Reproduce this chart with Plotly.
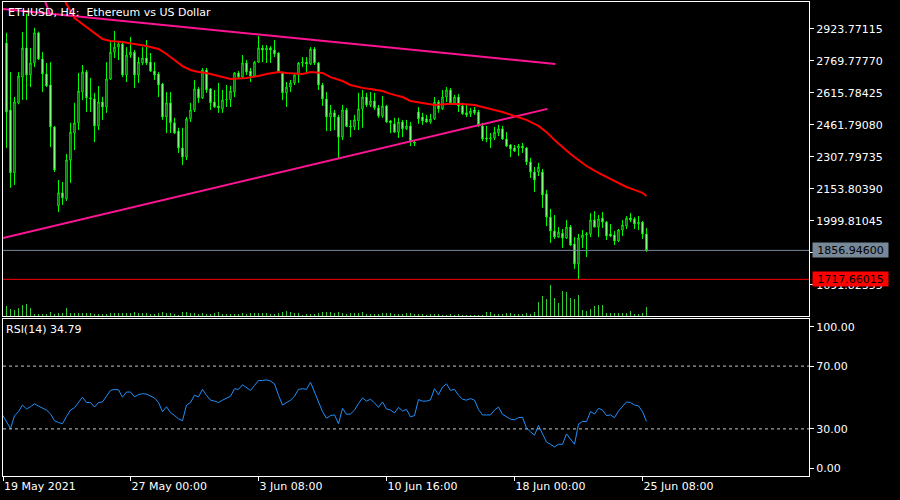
import plotly.graph_objects as go

# ---------------- data ----------------
bars = list(range(161))
opens = [2855,2533,2230,2567,2691,2831,2701,2759,2904,2778,2706,2653,2451,2071,2134,2105,2292,2422,2471,2619,
         2715,2591,2586,2456,2571,2547,2682,2811,2835,2850,2701,2797,2811,2701,2759,2783,2763,2720,2706,2658,
         2499,2567,2471,2431,2350,2306,2490,2533,2634,2591,2725,2634,2571,2552,2538,2581,2583,2619,2711,2691,
         2759,2720,2696,2763,2831,2821,2831,2821,2807,2711,2615,2643,2663,2701,2759,2763,2754,2826,2759,2653,
         2586,2499,2519,2499,2402,2533,2456,2451,2480,2538,2595,2557,2576,2543,2504,2552,2480,2466,2426,2475,
         2442,2456,2378,2523,2499,2490,2475,2490,2571,2538,2595,2629,2567,2595,2552,2519,2514,2533,2523,2456,
         2398,2393,2398,2422,2442,2393,2364,2350,2350,2359,2350,2282,2234,2234,2234,2129,2017,1950,1921,1940,
         1917,1969,1888,1792,1917,1931,1936,2003,1969,2012,1993,1936,1931,1902,1955,1974,2013,2008,1984,1993,
         1936]
highs = [2904,2715,2595,2715,2908,2995,2831,2928,2910,2811,2759,2763,2455,2196,2186,2321,2471,2567,2711,2749,
         2725,2687,2615,2648,2595,2763,2859,2913,2859,2855,2835,2884,2821,2787,2835,2869,2807,2763,2715,2663,
         2619,2619,2495,2447,2447,2499,2567,2677,2643,2735,2735,2639,2629,2663,2629,2653,2648,2715,2720,2797,
         2773,2735,2768,2889,2845,2845,2840,2869,2810,2715,2667,2677,2711,2763,2787,2787,2835,2835,2763,2663,
         2619,2557,2533,2509,2557,2543,2485,2509,2615,2629,2615,2619,2615,2557,2600,2557,2485,2495,2495,2485,
         2485,2475,2388,2547,2519,2509,2514,2595,2581,2629,2643,2639,2605,2610,2567,2562,2543,2547,2533,2471,
         2456,2422,2451,2461,2456,2426,2369,2364,2369,2374,2354,2302,2258,2278,2249,2148,2057,2027,1969,1960,
         2003,1979,1921,1936,1955,1945,2037,2046,2027,2041,1998,1984,1950,1960,2003,2022,2037,2017,2022,1998,
         1965]
lows = [2350,2158,2172,2560,2581,2581,2643,2739,2773,2619,2643,2354,2234,2041,2076,2095,2182,2340,2436,2581,
        2523,2523,2378,2436,2485,2519,2677,2783,2773,2691,2667,2783,2639,2663,2749,2749,2715,2677,2595,2485,
        2422,2422,2417,2326,2268,2292,2475,2523,2567,2586,2615,2533,2543,2519,2519,2547,2547,2595,2687,2687,
        2701,2667,2691,2759,2763,2759,2759,2787,2712,2581,2547,2619,2653,2663,2739,2715,2749,2749,2629,2552,
        2431,2431,2436,2302,2388,2451,2402,2436,2436,2447,2547,2547,2533,2495,2495,2471,2422,2422,2398,2402,
        2436,2359,2359,2466,2461,2471,2466,2485,2519,2533,2571,2567,2562,2523,2509,2499,2499,2509,2451,2383,
        2378,2350,2388,2407,2388,2354,2306,2330,2311,2326,2268,2206,2138,2215,2062,1974,1893,1912,1917,1869,
        1912,1878,1768,1718,1869,1825,1921,1969,1921,1965,1907,1921,1883,1897,1926,1960,1993,1960,1955,1912,
        1850]
closes = [2523,2230,2571,2696,2831,2701,2759,2904,2778,2706,2648,2451,2244,2134,2110,2292,2426,2471,2624,2715,
          2591,2586,2456,2571,2547,2682,2811,2835,2850,2701,2797,2811,2701,2763,2783,2759,2720,2701,2653,2499,
          2567,2471,2422,2350,2306,2490,2533,2634,2591,2725,2629,2567,2547,2543,2581,2583,2624,2711,2691,2759,
          2715,2696,2763,2831,2821,2831,2821,2802,2715,2615,2643,2663,2701,2759,2763,2754,2826,2759,2653,2586,
          2499,2519,2499,2402,2533,2453,2451,2485,2538,2595,2557,2576,2543,2504,2552,2475,2471,2426,2475,2442,
          2456,2378,2374,2490,2480,2475,2490,2571,2538,2595,2629,2567,2595,2552,2514,2509,2528,2519,2461,2393,
          2393,2398,2426,2442,2393,2359,2345,2335,2359,2350,2282,2234,2196,2258,2124,2017,1950,1921,1945,1917,
          1969,1883,1792,1917,1931,1936,2003,1969,2008,1993,1926,1926,1902,1955,1979,2013,2003,1984,1993,1936,
          1856.946]
volumes = [10,7,6,8,11,12,8,2,2,2,2,4,2,3,3,8,3,3,3,3,3,3,2,2,2,2,3,3,3,3,3,3,4,3,3,3,2,2,3,4,
           3,3,2,1,4,4,3,3,2,3,2,2,3,4,2,2,2,2,2,3,2,3,3,3,3,3,2,2,3,4,5,4,3,3,1,2,2,2,3,4,
           4,4,3,4,3,2,3,3,3,4,2,2,2,2,3,3,3,2,2,2,3,3,2,2,2,1,2,2,2,1,1,2,1,2,1,1,1,1,1,1,
           4,4,2,2,2,3,3,2,2,2,3,2,4,14,20,17,31,18,13,25,24,18,17,21,6,5,7,10,11,11,3,3,3,3,
           3,3,5,2,2,3,9]
volume_scale_max = 314

ma_bars = [13,14,15,17,19,21,23,24,26,29,32,35,38,40,42,44,46,48,50,53,56,60,63,65,68,70,74,76,79,81,84,86,
           89,91,94,96,99,101,104,107,110,114,117,120,124,127,130,133,135,137,139,141,143,145,148,150,153,155,
           157,159,160]
ma_vals = [3120,3081,3043,2975,2946,2918,2889,2874,2865,2860,2850,2841,2826,2802,2773,2744,2725,2715,2711,2696,
           2682,2687,2696,2706,2715,2711,2706,2715,2711,2691,2672,2653,2639,2634,2624,2610,2595,2576,2567,2557,
           2562,2562,2557,2543,2523,2504,2485,2456,2426,2388,2354,2321,2292,2263,2230,2210,2181,2162,2148,2134,
           2119]

upper_tl_bars = [-0.875, 137.25]
upper_tl_vals = [3019, 2754]
lower_tl_bars = [-0.875, 135.25]
lower_tl_vals = [1917, 2538]
steep_tl_bars = [9.0, 11.0]
steep_tl_vals = [3085, 2990]

bid_price = 1856.946
red_level = 1717.66015

rsi_bars = list(range(-1, 161))
rsi_vals = [38.9,
    34.7,30.2,38.3,41.0,45.2,42.7,44.1,46.0,44.5,43.5,42.0,39.5,35.2,34.1,33.3,37.9,42.0,43.5,46.8,50.2,
    46.8,46.8,43.9,46.8,47.2,50.8,54.5,55.2,54.9,50.2,53.5,53.5,50.4,51.8,52.4,52.2,51.0,49.7,46.8,41.0,
    44.1,40.4,38.5,36.4,35.2,45.2,46.8,51.4,50.4,55.2,51.4,48.3,47.7,46.8,48.3,49.3,50.8,55.6,55.2,58.1,
    56.0,54.5,57.7,60.8,60.8,61.2,60.4,58.7,51.4,45.2,46.8,48.3,50.8,55.2,55.6,55.2,59.7,53.5,46.2,41.0,
    36.8,38.5,38.9,33.3,43.1,39.3,39.5,42.0,46.2,49.7,47.7,48.9,46.6,43.7,47.2,42.7,42.0,40.2,43.7,41.4,
    42.4,37.7,38.5,48.7,47.7,47.7,48.5,55.6,51.8,56.6,58.7,54.5,55.2,51.4,48.9,48.3,49.3,48.3,42.4,38.9,
    38.9,38.9,42.0,43.9,39.3,37.9,36.2,35.8,37.2,37.4,30.6,28.1,26.0,32.2,26.8,21.6,20.2,18.5,20.2,20.2,
    26.8,23.3,20.2,33.1,34.7,34.7,41.0,39.5,43.1,42.0,38.5,38.9,37.2,41.4,44.1,47.2,46.8,45.2,44.7,41.0,
    34.79]
rsi_levels = [70, 30]

price_ticks = [2923.77115, 2769.77770, 2615.78425, 2461.79080, 2307.79735,
               2153.80390, 1999.81045, 1845.81700, 1691.82355]
price_tick_text = ["2923.77115", "2769.77770", "2615.78425", "2461.79080", "2307.79735",
                   "2153.80390", "1999.81045", "", "1691.82355"]
rsi_ticks = [95, 70, 30, 5]
rsi_tick_text = ["100.00", "70.00", "30.00", "0.00"]
time_tick_bars = [-0.875, 31, 63, 95, 127, 159]
time_tick_text = ["19 May 2021", "27 May 00:00", "3 Jun 08:00", "10 Jun 16:00", "18 Jun 00:00", "25 Jun 08:00"]

# sanity: keep high/low consistent with open/close
highs = [max(h, o, c) for h, o, c in zip(highs, opens, closes)]
lows = [min(l, o, c) for l, o, c in zip(lows, opens, closes)]

FONT = "DejaVu Sans"
WHITE = "#FFFFFF"
CANDLE = "#00FF00"
PINK = "#FF1493"
X_RANGE = [-0.875, 200.625]

fig = go.Figure()

fig.add_trace(go.Candlestick(
    x=bars, open=opens, high=highs, low=lows, close=closes,
    xaxis="x", yaxis="y", whiskerwidth=0,
    increasing=dict(line=dict(color=CANDLE, width=1), fillcolor="#000000"),
    decreasing=dict(line=dict(color=CANDLE, width=1), fillcolor="#FFFFFF"),
    hoverinfo="skip", showlegend=False))

fig.add_trace(go.Scatter(x=upper_tl_bars, y=upper_tl_vals, mode="lines", xaxis="x", yaxis="y",
                         line=dict(color=PINK, width=2), hoverinfo="skip", showlegend=False))
fig.add_trace(go.Scatter(x=lower_tl_bars, y=lower_tl_vals, mode="lines", xaxis="x", yaxis="y",
                         line=dict(color=PINK, width=2), hoverinfo="skip", showlegend=False))
fig.add_trace(go.Scatter(x=steep_tl_bars, y=steep_tl_vals, mode="lines", xaxis="x", yaxis="y",
                         line=dict(color=PINK, width=2), hoverinfo="skip", showlegend=False))
fig.add_trace(go.Scatter(x=ma_bars, y=ma_vals, mode="lines", xaxis="x", yaxis="y",
                         line=dict(color="#FF0000", width=2), hoverinfo="skip", showlegend=False))

fig.add_trace(go.Bar(x=bars, y=volumes, xaxis="x", yaxis="y2", width=0.25,
                     marker=dict(color="#32CD32", line=dict(width=0)),
                     hoverinfo="skip", showlegend=False))

fig.add_trace(go.Scatter(x=rsi_bars, y=rsi_vals, mode="lines", xaxis="x2", yaxis="y3",
                         line=dict(color="#1E90FF", width=1), hoverinfo="skip", showlegend=False))

shapes = [
    dict(type="line", xref="x domain", yref="y", x0=0, x1=1, y0=bid_price, y1=bid_price,
         line=dict(color="#778899", width=1)),
    dict(type="line", xref="x domain", yref="y", x0=0, x1=1, y0=red_level, y1=red_level,
         line=dict(color="#FF0000", width=1)),
]
for lv in rsi_levels:
    shapes.append(dict(type="line", xref="x2 domain", yref="y3", x0=0, x1=1, y0=lv, y1=lv,
                       line=dict(color="#C8C8C8", width=1, dash="3px,3px")))

annotations = [
    dict(text="ETHUSD, H4:\u00a0 Ethereum vs US Dollar", xref="paper", yref="paper", x=0, y=1,
         xanchor="left", yanchor="top", xshift=3, yshift=-2, showarrow=False,
         font=dict(family=FONT, size=11, color=WHITE)),
    dict(text="RSI(14) 34.79", xref="paper", yref="y3 domain", x=0, y=1,
         xanchor="left", yanchor="top", xshift=1, yshift=-2, showarrow=False,
         font=dict(family=FONT, size=11, color=WHITE)),
    dict(text="%.5f" % bid_price, xref="paper", yref="y", x=1, y=bid_price,
         xanchor="left", yanchor="middle", xshift=3, showarrow=False,
         bgcolor="#778899", borderpad=1, width=73, height=12,
         font=dict(family=FONT, size=11, color="#000000")),
    dict(text="%.5f" % red_level, xref="paper", yref="y", x=1, y=red_level,
         xanchor="left", yanchor="middle", xshift=3, showarrow=False,
         bgcolor="#FF0000", borderpad=1, width=73, height=12,
         font=dict(family=FONT, size=11, color="#000000")),
]

axis_common = dict(showgrid=False, zeroline=False, showline=True, linecolor=WHITE, linewidth=1,
                   mirror=True, fixedrange=True)

fig.update_layout(
    width=900, height=500,
    margin=dict(l=3, r=91, t=2, b=24, autoexpand=False),
    paper_bgcolor="#000000", plot_bgcolor="#000000",
    showlegend=False, bargap=0, boxgap=0.5,
    font=dict(family=FONT, size=11, color=WHITE),
    xaxis=dict(domain=[0, 1], anchor="y", range=X_RANGE, showticklabels=False, ticks="",
               rangeslider=dict(visible=False), **axis_common),
    yaxis=dict(domain=[0.33755, 1], anchor="x", side="right", range=[1541.2, 3052.3],
               tickmode="array", tickvals=price_ticks, ticktext=price_tick_text,
               ticks="outside", ticklen=4, tickcolor=WHITE,
               tickfont=dict(family=FONT, size=11, color=WHITE), **axis_common),
    yaxis2=dict(overlaying="y", range=[0, volume_scale_max], visible=False, fixedrange=True),
    xaxis2=dict(domain=[0, 1], anchor="y3", matches="x", range=X_RANGE,
                tickmode="array", tickvals=time_tick_bars, ticktext=time_tick_text,
                ticks="outside", ticklen=4, tickcolor=WHITE, ticklabelposition="outside right",
                tickfont=dict(family=FONT, size=11, color=WHITE), **axis_common),
    yaxis3=dict(domain=[0, 0.33122], anchor="x2", side="right", range=[0, 100],
                tickmode="array", tickvals=rsi_ticks, ticktext=rsi_tick_text,
                ticks="outside", ticklen=4, tickcolor=WHITE,
                tickfont=dict(family=FONT, size=11, color=WHITE), **axis_common),
    shapes=shapes,
    annotations=annotations,
)

fig.write_html("out.html", config={"displayModeBar": False, "staticPlot": True},
               post_script="document.body.style.margin='0';document.body.style.overflow='hidden';")
